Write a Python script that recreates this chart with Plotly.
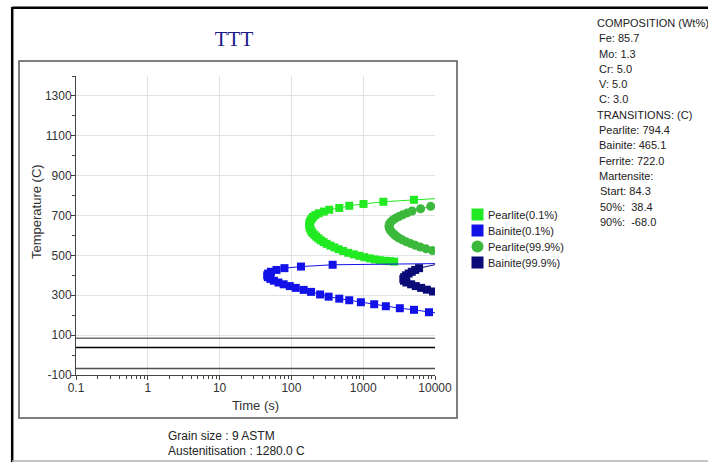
import plotly.graph_objects as go

# ---------------- data ----------------
pearlite_start_time = [15500, 5100, 1910, 1010, 640, 464, 337, 282, 240, 215, 200, 192, 185, 180,
                       178, 178, 181, 185, 190, 197, 209, 222, 237, 256, 280, 310, 350, 398, 455,
                       525, 620, 740, 880, 1040, 1240, 1450, 1700, 2050, 2350, 2700]
pearlite_start_temp = [789, 779, 769, 758, 749, 738, 729, 720, 711, 702, 693, 684, 675, 666,
                       657, 648, 639, 630, 621, 612, 603, 594, 585, 576, 567, 558, 549, 540, 531,
                       522, 513, 505, 498, 491, 485, 480, 476, 473, 471, 469]

bainite_start_time = [20000, 375, 136, 80, 62, 52, 47.5, 46, 47, 51, 57, 66, 78, 95, 115, 148,
                      188, 251, 330, 464, 639, 929, 1422, 2066, 3236, 5100, 8253, 13000]
bainite_start_temp = [460, 453, 444, 436, 427, 418, 409, 400, 391, 382, 373, 364, 355, 346, 337, 327,
                      317, 304, 293, 283, 275, 265, 255, 245, 235, 227, 215, 206]

pearlite_finish_time = [13500, 8710, 6300, 4800, 4100, 3550, 3150, 2820, 2580, 2430, 2330, 2290, 2300,
                        2340, 2420, 2540, 2700, 2900, 3150, 3500, 3950, 4550, 5300, 6250, 7500, 9200, 11500]
pearlite_finish_temp = [758, 746, 734, 723, 713, 704, 695, 686, 677, 668, 659, 650, 641,
                        632, 623, 614, 605, 596, 587, 578, 569, 560, 551, 542, 533, 524, 515]

bainite_finish_time = [11500, 6000, 5300, 4750, 4300, 3950, 3720, 3620, 3700, 4000, 4650, 5400, 6400,
                       7700, 9400, 12000]
bainite_finish_temp = [458, 436, 427, 418, 409, 400, 391, 382, 373, 364, 355, 346, 337,
                       328, 319, 310]

martensite_temps = [84.3, 38.4, -68.0]
martensite_colors = ["#707070", "#000000", "#505050"]

x_tick_vals = [0.1, 1, 10, 100, 1000, 10000]
x_tick_text = ["0.1", "1", "10", "100", "1000", "10000"]
y_tick_vals = [-100, 100, 300, 500, 700, 900, 1100, 1300]
y_tick_text = ["-100", "100", "300", "500", "700", "900", "1100", "1300"]
y_range = [-100, 1400]

series_names = ["Pearlite(0.1%)", "Bainite(0.1%)", "Pearlite(99.9%)", "Bainite(99.9%)"]
series_colors = ["#22ea22", "#1212e8", "#3cb93c", "#0b0b78"]
series_symbols = ["square", "square", "circle", "square"]

composition_lines = ["COMPOSITION (Wt%)", "Fe: 85.7", "Mo: 1.3", "Cr: 5.0", "V: 5.0", "C: 3.0",
                     "TRANSITIONS: (C)", "Pearlite: 794.4", "Bainite: 465.1", "Ferrite: 722.0",
                     "Martensite:", "Start: 84.3", "50%:  38.4", "90%:  -68.0"]
footer_lines = ["Grain size : 9 ASTM", "Austenitisation : 1280.0 C"]

# ---------------- geometry ----------------
W, H = 708, 462
ML, MR, MT, MB = 76, 273, 76, 87
PW = W - ML - MR
PH = H - MT - MB


def px(x):
    return (x - ML) / PW


def py(y):
    return (H - MB - y) / PH


FONT = "Liberation Sans, Arial, sans-serif"
AXC = "#444444"

fig = go.Figure()

# martensite lines
for temp, col in zip(martensite_temps, martensite_colors):
    fig.add_trace(go.Scatter(x=[x_tick_vals[0], x_tick_vals[-1]], y=[temp, temp], mode="lines",
                             line=dict(color=col, width=1.5), showlegend=False, hoverinfo="skip"))

series_data = [(pearlite_start_time, pearlite_start_temp),
               (bainite_start_time, bainite_start_temp),
               (pearlite_finish_time, pearlite_finish_temp),
               (bainite_finish_time, bainite_finish_temp)]

for (xs, ys), name, col, sym in zip(series_data, series_names, series_colors, series_symbols):
    fig.add_trace(go.Scatter(x=xs, y=ys, mode="lines+markers", name=name,
                             line=dict(color=col, width=1),
                             marker=dict(symbol=sym, size=8 if sym == "square" else 9, color=col,
                                         line=dict(width=0)),
                             showlegend=False))

shapes = []
# outer frame
shapes.append(dict(type="line", xref="paper", yref="paper", x0=px(12.2), x1=px(712), y0=py(7.8), y1=py(7.8),
                   line=dict(color="#000000", width=2.5)))
shapes.append(dict(type="line", xref="paper", yref="paper", x0=px(12.2), x1=px(12.2), y0=py(7), y1=py(470),
                   line=dict(color="#000000", width=2.5)))
shapes.append(dict(type="line", xref="paper", yref="paper", x0=px(12), x1=px(712), y0=py(461), y1=py(461),
                   line=dict(color="#b0b0b0", width=1.5)))
# inner box
shapes.append(dict(type="rect", xref="paper", yref="paper", x0=px(19), x1=px(457), y0=py(418), y1=py(61),
                   line=dict(color="#555555", width=1.5)))

annotations = []
# custom legend
legend_y = [214.5, 230.5, 246.5, 262.5]
for name, col, sym, ly in zip(series_names, series_colors, series_symbols, legend_y):
    shapes.append(dict(type="circle" if sym == "circle" else "rect", xref="paper", yref="paper",
                       x0=px(471.5), x1=px(483.5), y0=py(ly + 6), y1=py(ly - 6),
                       fillcolor=col, line=dict(width=0)))
    annotations.append(dict(text=name, xref="paper", yref="paper", x=px(485.5), y=py(ly),
                            xanchor="left", yanchor="middle", showarrow=False,
                            font=dict(family=FONT, size=11, color="#222222")))

# composition block
for i, line in enumerate(composition_lines):
    xl = 595 if i in (0, 6) else 596.5
    if line.startswith(("Start", "50%", "90%")):
        xl = 598
    annotations.append(dict(text=line, xref="paper", yref="paper", x=px(xl), y=py(23 + 15.3 * i),
                            xanchor="left", yanchor="middle", showarrow=False,
                            font=dict(family=FONT, size=11, color="#222222")))

# footer
for i, line in enumerate(footer_lines):
    annotations.append(dict(text=line, xref="paper", yref="paper", x=px(166), y=py(435.7 + 15 * i),
                            xanchor="left", yanchor="middle", showarrow=False,
                            font=dict(family=FONT, size=12, color="#222222")))

# y axis title
annotations.append(dict(text="Temperature (C)", xref="paper", yref="paper", x=px(36), y=py(212),
                        xanchor="center", yanchor="middle", textangle=-90, showarrow=False,
                        font=dict(family=FONT, size=13, color="#333333")))

fig.update_layout(
    width=W, height=H,
    margin=dict(l=ML, r=MR, t=MT, b=MB, pad=0),
    paper_bgcolor="white", plot_bgcolor="white",
    showlegend=False,
    title=dict(text="TTT", x=234 / W, y=1 - 39 / H, xref="container", yref="container",
               xanchor="center", yanchor="middle",
               font=dict(family="Liberation Serif, Times New Roman, serif", size=21, color="#1a1a8c")),
    xaxis=dict(type="log", range=[-1, 4], tickvals=x_tick_vals, ticktext=x_tick_text,
               showgrid=True, gridcolor="#e2e2e2", gridwidth=1,
               showline=True, linecolor=AXC, linewidth=1,
               ticks="outside", ticklen=4, tickcolor=AXC,
               minor=dict(ticks="outside", ticklen=3, tickcolor=AXC, dtick="D1", showgrid=False),
               tickfont=dict(family=FONT, size=12, color="#333333"),
               ticklabelstandoff=-2,
               title=dict(text="Time (s)", font=dict(family=FONT, size=13, color="#333333"), standoff=6),
               zeroline=False),
    yaxis=dict(range=y_range, tickvals=y_tick_vals, ticktext=y_tick_text,
               showgrid=True, gridcolor="#e2e2e2", gridwidth=1,
               showline=True, linecolor=AXC, linewidth=1,
               ticks="outside", ticklen=4, tickcolor=AXC,
               minor=dict(ticks="outside", ticklen=3, tickcolor=AXC, dtick=100, tick0=0, showgrid=False),
               tickfont=dict(family=FONT, size=12, color="#333333"),
               ticklabelstandoff=-3,
               zeroline=False),
    # overlay axes that add the inner half of the crossing tick marks
    xaxis2=dict(type="log", range=[-1, 4], overlaying="x", anchor="y", side="bottom",
                tickvals=x_tick_vals, showticklabels=False, showgrid=False, showline=False,
                ticks="inside", ticklen=3, tickcolor=AXC, zeroline=False,
                minor=dict(ticks="inside", ticklen=3, tickcolor=AXC, dtick="D1", showgrid=False)),
    yaxis2=dict(range=y_range, overlaying="y", anchor="x", side="left",
                tickvals=y_tick_vals, showticklabels=False, showgrid=False, showline=False,
                ticks="inside", ticklen=3, tickcolor=AXC, zeroline=False,
                minor=dict(ticks="inside", ticklen=3, tickcolor=AXC, dtick=100, tick0=0, showgrid=False)),
    shapes=shapes,
    annotations=annotations,
)

fig.write_html("out.html", config={"displayModeBar": False},
               post_script="document.body.style.margin='0';document.body.style.overflow='hidden';")
